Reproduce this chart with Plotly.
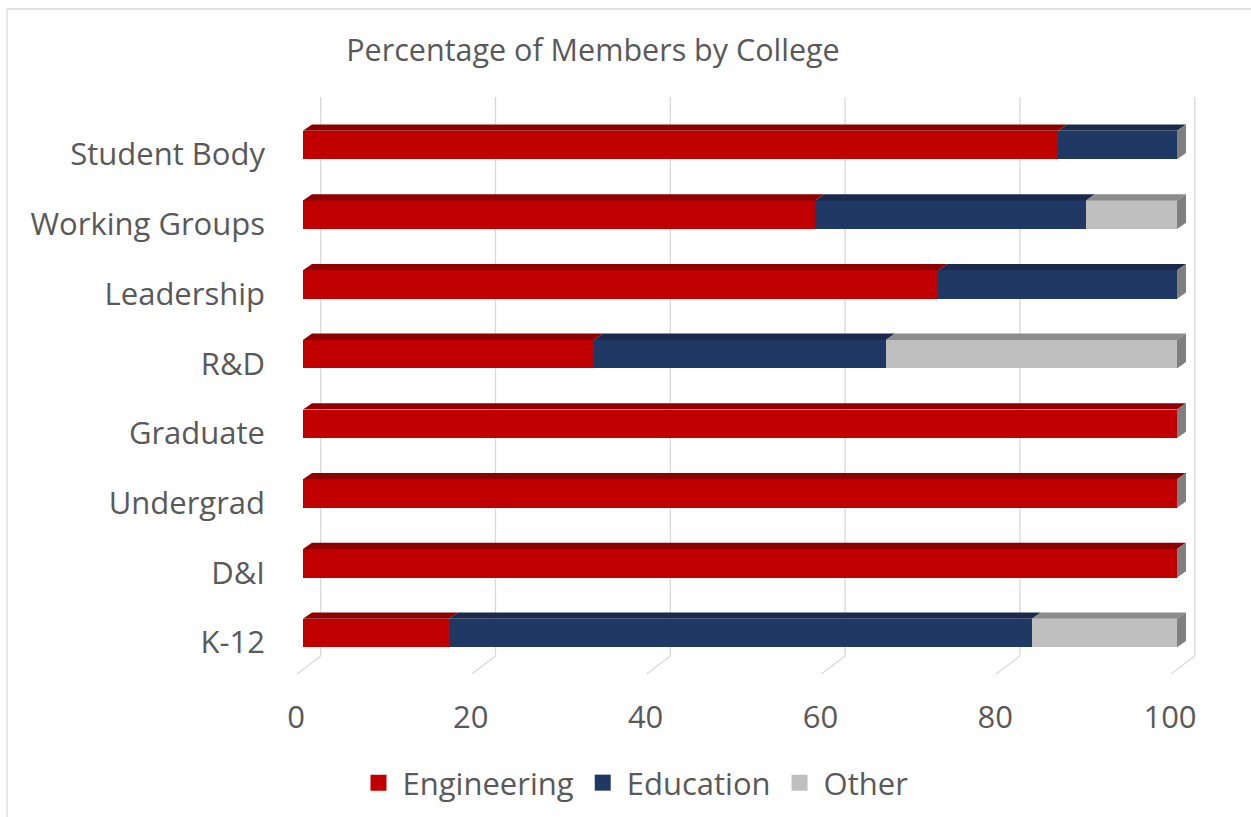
import plotly.graph_objects as go

categories = ["K-12", "D&I", "Undergrad", "Graduate", "R&D", "Leadership", "Working Groups", "Student Body"]
engineering = [16.7, 100, 100, 100, 33.3, 72.7, 58.6, 86.4]
education = [66.7, 0, 0, 0, 33.4, 27.3, 31.0, 13.6]
other = [16.6, 0, 0, 0, 33.3, 0, 10.4, 0]
x_ticks = [0, 20, 40, 60, 80, 100]
title_text = "Percentage of Members by College"

W, H = 1251, 817
L, R, T, B = 280, 1210, 90, 690
X0PX, SX = 303.0, 8.74          # pixel of value 0 (front face), px per unit
Y0PX, SY = 633.0, 69.71         # pixel of first category centre, px per category
xmin, xmax = (L - X0PX) / SX, (R - X0PX) / SX
ymin, ymax = (Y0PX - B) / SY, (Y0PX - T) / SY

def ypx(p):
    return (Y0PX - p) / SY

bar_w = 28.5 / SY
dx, dy = 9.0 / SX, 6.3 / SY

series = [("Engineering", engineering, "#C00000", "#8E0000"),
          ("Education", education, "#203864", "#1B2A4C"),
          ("Other", other, "#BFBFBF", "#8C8C8C")]
cap_color = "#7F7F7F"

fig = go.Figure()
ypos = list(range(len(categories)))

# top faces and end caps
for i, yc in enumerate(ypos):
    start = 0.0
    last_end = 0.0
    for name, vals, face, top in series:
        v = vals[i]
        if v <= 0:
            continue
        x0, x1 = start, start + v
        yt = yc + bar_w / 2
        fig.add_trace(go.Scatter(
            x=[x0, x1, x1 + dx, x0 + dx, x0], y=[yt, yt, yt + dy, yt + dy, yt],
            mode="lines", fill="toself", fillcolor=top, line=dict(width=0, color=top),
            showlegend=False, hoverinfo="skip"))
        start = x1
        last_end = x1
    yb, yt = yc - bar_w / 2, yc + bar_w / 2
    fig.add_trace(go.Scatter(
        x=[last_end, last_end, last_end + dx, last_end + dx, last_end],
        y=[yb, yt, yt + dy, yb + dy, yb],
        mode="lines", fill="toself", fillcolor=cap_color, line=dict(width=0, color=cap_color),
        showlegend=False, hoverinfo="skip"))

for name, vals, face, top in series:
    fig.add_trace(go.Bar(y=ypos, x=vals, name=name, orientation="h", width=bar_w,
                         marker=dict(color=face, line=dict(width=0)), showlegend=False))

# legend entries with larger square swatches
for name, vals, face, top in series:
    fig.add_trace(go.Scatter(x=[None], y=[None], mode="markers", name=name,
                             marker=dict(symbol="square", size=17, color=face)))

# back gridlines with floor diagonals
g_off = 17.7 / SX
f_off = -6.0 / SX
for v in x_ticks:
    fig.add_shape(type="line", xref="x", yref="y", x0=v + g_off, x1=v + g_off,
                  y0=ypx(97), y1=ypx(656), line=dict(color="#D9D9D9", width=1.3), layer="below")
    fig.add_shape(type="line", xref="x", yref="y", x0=v + g_off, x1=v + f_off,
                  y0=ypx(656), y1=ypx(674), line=dict(color="#D9D9D9", width=1.3), layer="below")

# chart border (left and top)
def pxx(p):
    return (p - L) / (R - L)
def pyy(p):
    return (B - p) / (B - T)

fig.add_shape(type="line", xref="paper", yref="paper", x0=pxx(7), x1=pxx(1260), y0=pyy(9), y1=pyy(9),
              line=dict(color="#D9D9D9", width=1.3))
fig.add_shape(type="line", xref="paper", yref="paper", x0=pxx(7), x1=pxx(7), y0=pyy(9), y1=pyy(830),
              line=dict(color="#D9D9D9", width=1.3))

font_family = "Open Sans, sans-serif"
fig.update_layout(
    width=W, height=H,
    margin=dict(l=L, r=W - R, t=T, b=H - B, autoexpand=False),
    barmode="stack", bargap=0,
    plot_bgcolor="white", paper_bgcolor="white",
    font=dict(family=font_family, color="#595959"),
    title=dict(text=title_text, x=593 / W, xanchor="center", y=1 - 50 / H, yanchor="middle",
               font=dict(size=30.5, color="#595959", family=font_family)),
    xaxis=dict(range=[xmin, xmax], tickvals=[v - 0.8 for v in x_ticks], ticktext=[str(v) for v in x_ticks],
               showgrid=False, zeroline=False, showline=False, ticks="",
               tickfont=dict(size=31, color="#595959"), ticklabelstandoff=6),
    yaxis=dict(range=[ymin, ymax], tickvals=[y - 9.5 / SY for y in ypos], ticktext=categories,
               showgrid=False, zeroline=False, showline=False, ticks="",
               tickfont=dict(size=31, color="#595959"), ticklabelstandoff=14),
    legend=dict(orientation="h", x=634 / W, xanchor="center", y=1 - 783 / H, yanchor="middle",
                xref="container", yref="container", font=dict(size=31, color="#595959"),
                traceorder="normal", itemwidth=38),
    showlegend=True,
)

fig.write_html("out.html")
